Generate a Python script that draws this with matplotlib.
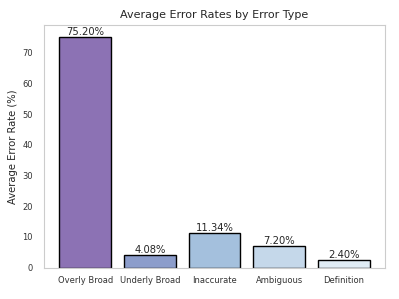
import matplotlib
matplotlib.use("Agg")
import matplotlib.pyplot as plt
import seaborn as sns

# Error categories and their average rates (%)
error_types = ['Overly Broad', 'Underly Broad', 'Inaccurate', 'Ambiguous', 'Definition']
error_rates = [75.20, 4.08, 11.34, 7.20, 2.40]
bar_colors = ['#8c72b4', '#8c9dcb', '#a4c0dd', '#c5d8ea', '#e0ecf5']

sns.set_style('white')
plt.rcParams['font.family'] = ['DejaVu Sans']

fig, ax = plt.subplots(figsize=(3.99, 2.99), dpi=100)
bars = ax.bar(error_types, error_rates, color=bar_colors, edgecolor='black', linewidth=1, width=0.8)

for bar, val in zip(bars, error_rates):
    ax.text(bar.get_x() + bar.get_width() / 2, bar.get_height(), f'{val:.2f}%',
            ha='center', va='bottom', fontsize=7.2, color='#262626')

ax.set_ylim(0, max(error_rates) * 1.05)
ax.set_title('Average Error Rates by Error Type', fontsize=8, pad=5)
ax.set_ylabel('Average Error Rate (%)', fontsize=7.2, labelpad=3)
ax.tick_params(axis='x', labelsize=6, length=0, pad=6, labelcolor='#333333')
ax.tick_params(axis='y', labelsize=6, length=0, pad=8, labelcolor='#333333')
for spine in ax.spines.values():
    spine.set_color('#cccccc')

fig.subplots_adjust(left=0.11, right=0.965, top=0.915, bottom=0.105)
fig.savefig('out.png', dpi=100)
